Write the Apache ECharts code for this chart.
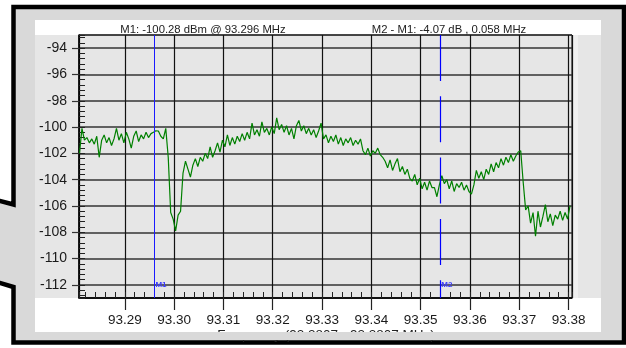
<!DOCTYPE html>
<html>
<head>
<meta charset="utf-8">
<script src="https://cdn.jsdelivr.net/npm/echarts@6/dist/echarts.min.js"></script>
<style>
  html, body { margin: 0; padding: 0; background: #ffffff; }
  #chart { width: 626px; height: 348px; }
</style>
</head>
<body>
<div id="chart"></div>
<script>
// Spectrum sweep: 200 samples, 0.5 kHz apart
const FREQ_START = 93.2808;
const FREQ_STEP = 0.0005;
const levelsDbm = [
  -102.0, -100.1, -101.0, -100.8, -101.2, -100.9, -101.3, -100.7, -102.3, -101.0,
  -100.6, -101.2, -100.8, -101.4, -100.9, -100.1, -101.0, -100.5, -101.2, -100.4,
  -100.9, -101.6, -100.7, -100.3, -101.1, -100.6, -100.9, -100.4, -100.8, -100.5,
  -100.4, -100.28, -100.3, -100.7, -100.9, -100.1, -102.3, -106.5, -107.0, -107.9,
  -106.7, -106.4, -103.5, -102.6, -103.2, -103.8, -102.9, -102.4, -103.0, -102.3,
  -102.6, -102.0, -102.4, -101.5, -102.3, -101.8, -101.2, -101.9, -101.0, -101.5,
  -100.6, -101.4, -100.8, -101.3, -100.7, -101.1, -100.5, -101.0, -100.4, -100.9,
  -99.7, -100.6, -100.2, -100.7, -99.6, -100.4, -100.1, -100.6, -100.0, -100.5,
  -99.3, -100.2, -99.8, -100.4, -99.9, -100.6, -100.1, -100.9, -99.9, -99.5,
  -100.3, -99.9, -100.5, -100.1, -100.6, -100.2, -100.8, -100.3, -99.7, -100.9,
  -100.6, -101.2, -100.7, -101.1, -100.6, -101.3, -100.8, -101.4, -100.9, -101.2,
  -100.8, -101.4, -101.0, -101.3, -100.9, -101.8, -102.1, -101.6, -102.2, -101.8,
  -102.0, -101.6, -102.1, -102.3, -102.6, -103.1, -102.5, -103.3, -102.8, -102.4,
  -103.4, -103.0, -103.6, -103.2, -103.9, -104.1, -103.6, -104.4, -103.9, -104.7,
  -104.2, -104.8, -104.1, -104.6, -104.6, -105.3, -104.4, -103.7, -104.3, -104.0,
  -104.7, -104.1, -104.9, -104.3, -104.6, -104.2, -104.8, -104.4, -104.9, -105.1,
  -104.4, -103.3, -103.9, -103.4, -104.0, -103.2, -103.6, -102.8, -103.4, -102.7,
  -103.1, -102.4, -102.9, -102.3, -102.7, -102.1, -102.6, -102.2, -101.9, -101.8,
  -104.2, -106.3, -106.0, -107.3, -106.5, -108.3, -106.4, -107.6, -106.8, -105.9,
  -107.2, -106.6, -107.5, -106.7, -107.0, -106.4, -107.1, -106.5, -107.0, -106.0
];

// Axis extents
const FREQ_MIN = 93.2807;
const FREQ_MAX = 93.3807;
const LEVEL_MIN = -113;
const LEVEL_MAX = -93;

// Markers
const M1_FREQ = 93.296;
const M1_LEVEL = -100.28;
const DELTA_DB = -4.07;
const DELTA_MHZ = 0.058;
const M2_FREQ = +(M1_FREQ + DELTA_MHZ).toFixed(3);
const MARKER_LABEL_LEVEL = -112;

const xTickLabels = ['93.29', '93.30', '93.31', '93.32', '93.33', '93.34', '93.35', '93.36', '93.37', '93.38'];
const yTickLabels = ['-94', '-96', '-98', '-100', '-102', '-104', '-106', '-108', '-110', '-112'];

const FONT = 'Liberation Sans, Arial, sans-serif';
const traceData = levelsDbm.map((v, i) => [FREQ_START + i * FREQ_STEP, v]);

const chart = echarts.init(document.getElementById('chart'), null, { renderer: 'canvas' });

const xCommon = { type: 'value', min: FREQ_MIN, max: FREQ_MAX, splitNumber: 10 };
const yCommon = { type: 'value', min: LEVEL_MIN, max: LEVEL_MAX, splitNumber: 10 };

chart.setOption({
  animation: false,
  backgroundColor: '#ffffff',
  grid: {
    left: 79, right: 54, top: 35, bottom: 50,
    show: true, borderColor: '#000', borderWidth: 1, backgroundColor: 'transparent'
  },
  xAxis: [
    Object.assign({}, xCommon, {
      position: 'bottom',
      axisLine: { show: true, onZero: false, lineStyle: { color: '#000', width: 1.5 } },
      axisTick: { show: true, inside: false, length: 12, lineStyle: { color: '#222', width: 1.2 } },
      axisLabel: {
        show: true, margin: 15, fontSize: 13.5, fontFamily: FONT, color: '#1a1a1a',
        showMinLabel: false, showMaxLabel: false,
        formatter: v => {
          const s = v.toFixed(2);
          return xTickLabels.indexOf(s) >= 0 ? s : '';
        }
      },
      splitLine: { show: true, lineStyle: { color: '#111', width: 1.2 } }
    }),
    Object.assign({}, xCommon, {
      position: 'bottom',
      axisLine: { show: false },
      axisTick: { show: true, inside: true, length: 6, lineStyle: { color: '#222', width: 1 } },
      minorTick: { show: true, splitNumber: 5, length: 6, lineStyle: { color: '#222', width: 1 } },
      axisLabel: { show: false },
      splitLine: { show: false }
    })
  ],
  yAxis: [
    Object.assign({}, yCommon, {
      position: 'left',
      axisLine: { show: true, onZero: false, lineStyle: { color: '#000', width: 1.5 } },
      axisTick: { show: true, inside: false, length: 7, lineStyle: { color: '#333', width: 1.2 } },
      axisLabel: {
        show: true, margin: 12, fontSize: 14, fontFamily: FONT, color: '#1a1a1a',
        showMinLabel: false, showMaxLabel: false,
        formatter: v => {
          const s = String(Math.round(v));
          return (Math.abs(v - Math.round(v)) < 1e-6 && yTickLabels.indexOf(s) >= 0) ? s : '';
        }
      },
      splitLine: { show: true, lineStyle: { color: '#333', width: 1.5 } }
    }),
    Object.assign({}, yCommon, {
      position: 'left',
      axisLine: { show: false },
      axisTick: { show: true, inside: true, length: 6, lineStyle: { color: '#222', width: 1 } },
      minorTick: { show: true, splitNumber: 5, length: 6, lineStyle: { color: '#222', width: 1 } },
      axisLabel: { show: false },
      splitLine: { show: false }
    })
  ],
  graphic: [
    // callout frame
    {
      type: 'polygon', z: -10, silent: true,
      shape: { points: [[13.5, 7], [624, 7], [624, 342.5], [13.5, 342.5], [13.5, 287], [0, 283], [-8, 283], [-8, 201], [0, 201], [13.5, 204.5]] },
      style: { fill: '#d9d9d9', stroke: '#000', lineWidth: 4.5, lineJoin: 'miter' }
    },
    { type: 'rect', z: -9, silent: true, shape: { x: 35, y: 20, width: 566, height: 312 }, style: { fill: '#ffffff' } },
    { type: 'rect', z: -8, silent: true, shape: { x: 35, y: 35, width: 537, height: 263 }, style: { fill: '#e6e6e6' } },
    { type: 'rect', z: -8, silent: true, shape: { x: 573, y: 35, width: 28, height: 263 }, style: { fill: '#e6e6e6' } },
    { type: 'rect', z: -7, silent: true, shape: { x: 573, y: 35, width: 5, height: 263 }, style: { fill: '#f0f0f0' } },
    {
      type: 'text', z: -7, silent: true, x: 203, y: 29.5,
      style: {
        text: `M1: ${M1_LEVEL.toFixed(2)} dBm @ ${M1_FREQ.toFixed(3)} MHz`,
        font: `11.3px ${FONT}`, fill: '#222', align: 'center', verticalAlign: 'middle'
      }
    },
    {
      type: 'text', z: -7, silent: true, x: 449, y: 29.5,
      style: {
        text: `M2 - M1: ${DELTA_DB.toFixed(2)} dB , ${DELTA_MHZ.toFixed(3)} MHz`,
        font: `11.3px ${FONT}`, fill: '#222', align: 'center', verticalAlign: 'middle'
      }
    },
    {
      type: 'text', z: -7, silent: true, x: 326, y: 328,
      style: {
        text: `Frequency (${FREQ_MIN.toFixed(4)} - ${FREQ_MAX.toFixed(4)} MHz)`,
        font: `13.5px ${FONT}`, fill: '#222', align: 'center', verticalAlign: 'top'
      }
    },
    { type: 'rect', z: -6, silent: true, shape: { x: 30, y: 332, width: 580, height: 8 }, style: { fill: '#d9d9d9' } }
  ],
  series: [
    {
      type: 'line',
      xAxisIndex: 0, yAxisIndex: 0,
      data: traceData,
      showSymbol: false,
      symbol: 'none',
      lineStyle: { color: '#008000', width: 1.2 },
      silent: true,
      clip: true,
      markLine: {
        silent: true,
        symbol: ['none', 'none'],
        label: { show: false },
        data: [
          [
            { coord: [M1_FREQ, LEVEL_MAX], lineStyle: { color: '#1a1aff', width: 1, type: 'solid' } },
            { coord: [M1_FREQ, LEVEL_MIN] }
          ],
          [
            { coord: [M2_FREQ, LEVEL_MAX], lineStyle: { color: '#0000ff', width: 1.2, type: [46, 15.3] } },
            { coord: [M2_FREQ, LEVEL_MIN] }
          ]
        ]
      },
      markPoint: {
        silent: true,
        symbol: 'circle',
        symbolSize: 0,
        label: {
          show: true, position: 'right', distance: 1,
          fontSize: 8, fontWeight: 'bold', fontFamily: FONT, color: '#3b3bff'
        },
        data: [
          { coord: [M1_FREQ, MARKER_LABEL_LEVEL], label: { formatter: 'M1' } },
          { coord: [M2_FREQ, MARKER_LABEL_LEVEL], label: { formatter: 'M2' } }
        ]
      }
    }
  ]
});
</script>
</body>
</html>
